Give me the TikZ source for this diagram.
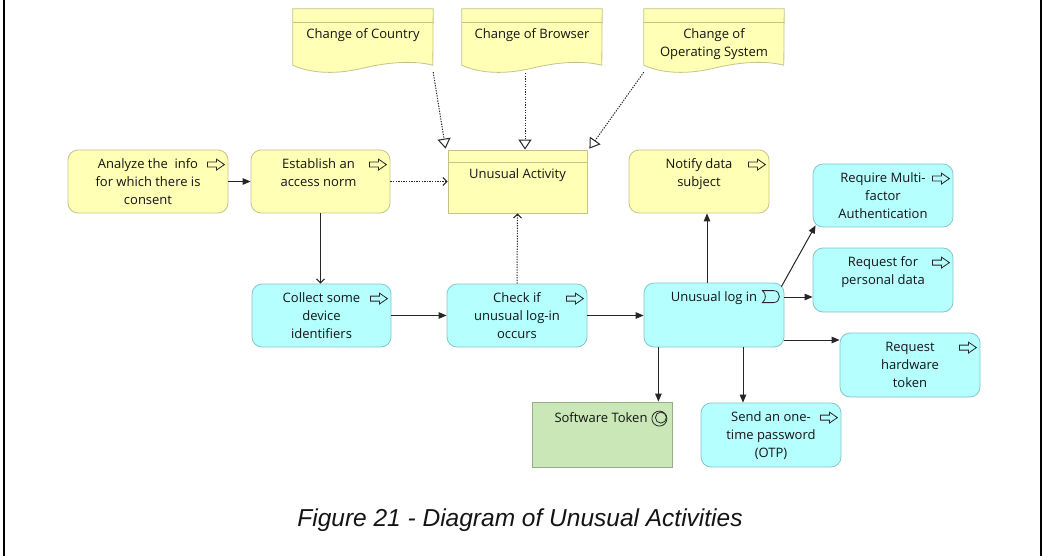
\documentclass[tikz,border=0pt]{standalone}
\usepackage{fontspec}
\setmainfont{Open Sans}
\newfontfamily\capfont{Liberation Sans}
\usetikzlibrary{arrows.meta,calc}

\definecolor{bizfill}{HTML}{FFFFB5}
\definecolor{bizline}{HTML}{C4C48A}
\definecolor{appfill}{HTML}{B5FFFF}
\definecolor{appline}{HTML}{86C6C6}
\definecolor{techfill}{HTML}{C9E7B7}
\definecolor{techline}{HTML}{98AE88}
\definecolor{txt}{HTML}{141414}

\tikzset{
  box/.style={minimum width=140pt, minimum height=63pt, inner sep=0pt, line width=0.8pt, draw},
  proc/.style={box, rounded corners=10pt},
  biz/.style={fill=bizfill, draw=bizline},
  app/.style={fill=appfill, draw=appline},
  tech/.style={fill=techfill, draw=techline},
  docbox/.style={minimum width=140pt, minimum height=64pt, inner sep=0pt, draw=none},
  docline/.style={fill=bizfill, draw=bizline, line width=0.8pt},
  lbl/.style={anchor=north, align=center, inner sep=0pt, text=txt,
    font=\fontsize{13}{18}\selectfont},
  icon/.style={draw=black!85, line width=0.8pt},
  conn/.style={line width=1pt, draw=black!85},
  trig/.style={conn, -{Triangle[length=8pt,width=6.5pt]}},
  serv/.style={conn, -{Straight Barb[length=4pt,width=8pt]}},
  acc/.style={conn, dash pattern=on 1.3pt off 1.3pt, -{Straight Barb[length=4pt,width=8pt]}},
  real/.style={conn, dash pattern=on 1.3pt off 1.3pt,
    -{Triangle[open,length=10pt,width=13pt,fill=white]}},
}

% outline arrow marking a process
\newcommand\procmark[1]{%
  \draw[icon] ($(#1.north east)+(-21,12.5)$) -- ++(9,0) -- ++(0,-3) -- ++(8,5.5)
    -- ++(-8,5.5) -- ++(0,-3) -- ++(-9,0) -- cycle;}

% representation shape with a wavy lower edge
\newcommand\docshape[1]{%
  \filldraw[docline] (#1.north west) -- (#1.north east) -- ($(#1.south west)+(140,-8)$)
    .. controls ($(#1.south west)+(120,-13)$) and ($(#1.south west)+(95,-11)$) .. ($(#1.south west)+(70,-5)$)
    .. controls ($(#1.south west)+(45,1)$) and ($(#1.south west)+(20,1)$) .. ($(#1.south west)+(0,-8)$)
    -- cycle;
  \draw[draw=bizline, line width=0.8pt] ($(#1.north west)+(0,14)$) -- ($(#1.north east)+(0,14)$);}

\begin{document}
\begin{tikzpicture}[x=1pt, y=-1pt]
\useasboundingbox (0,0) rectangle (1044,556);

% page side rules
\draw[line width=2pt] (4,0) -- (4,556);
\draw[line width=2pt] (1041,0) -- (1041,556);

% representations
\node[docbox] (cty) at (363,41) {};
\node[docbox] (brw) at (532,41) {};
\node[docbox] (os)  at (714,41) {};
\docshape{cty}\docshape{brw}\docshape{os}
\node[lbl, yshift=-19.5pt] (cty-t) at (cty.north) {Change of Country};
\node[lbl, yshift=-19.5pt] (brw-t) at (brw.north) {Change of Browser};
\node[lbl, yshift=-19.5pt] (os-t)  at (os.north)  {Change of\\Operating System};

% business object
\node[box, biz, minimum width=139pt] (ua) at (517.5,181.5) {};
\draw[draw=bizline, line width=0.8pt] ($(ua.north west)+(0,13)$) -- ($(ua.north east)+(0,13)$);
\node[lbl, yshift=-19pt] (ua-t) at (ua.north) {Unusual Activity};

% business processes
\node[proc, biz, minimum width=160pt] (an) at (148,181.5) {};
\node[proc, biz, minimum width=139pt] (est) at (320.5,181.5) {};
\node[proc, biz] (nds) at (699,181.5) {};
\node[lbl, yshift=-9pt] (an-t) at (an.north) {Analyze the\ \ info\\for which there is\\consent};
\node[lbl, yshift=-9pt, xshift=-2pt] (est-t) at (est.north) {Establish an\\access norm};
\node[lbl, yshift=-9pt] (nds-t) at (nds.north) {Notify data\\subject};

% application processes
\node[proc, app, minimum width=139pt] (col) at (321.5,315.5) {};
\node[proc, app] (chk) at (517,315.5) {};
\node[proc, app, minimum height=64pt] (uli) at (714,315) {};
\node[proc, app] (mfa) at (883,195.5) {};
\node[proc, app, minimum height=64pt] (rpd) at (883,280) {};
\node[proc, app, minimum height=64pt] (hw) at (910,365) {};
\node[proc, app, minimum height=64pt] (otp) at (771,435) {};
\node[lbl, yshift=-9pt] (col-t) at (col.north) {Collect some\\device\\identifiers};
\node[lbl, yshift=-9pt] (chk-t) at (chk.north) {Check if\\unusual log-in\\occurs};
\node[lbl, yshift=-9pt] (uli-t) at (uli.north) {Unusual log in};
\node[lbl, yshift=-9pt] (mfa-t) at (mfa.north) {Require Multi-\\factor\\Authentication};
\node[lbl, yshift=-9pt] (rpd-t) at (rpd.north) {Request for\\personal data};
\node[lbl, yshift=-9pt] (hw-t)  at (hw.north)  {Request\\hardware\\token};
\node[lbl, yshift=-9pt] (otp-t) at (otp.north) {Send an one-\\time password\\(OTP)};

% technology element
\node[box, tech, minimum height=65pt] (st) at (602,434.5) {};
\node[lbl, yshift=-10.5pt, xshift=-1pt] (st-t) at (st.north) {Software Token};

% process marks
\foreach \n in {an,est,nds,col,chk,mfa,rpd,hw,otp} {\procmark{\n}}

% event mark
\draw[icon] ($(uli.north east)+(-22,8)$) -- ($(uli.north east)+(-11,8)$)
  .. controls ($(uli.north east)+(-3,8)$) and ($(uli.north east)+(-3,20)$) .. ($(uli.north east)+(-11,20)$)
  -- ($(uli.north east)+(-22,20)$)
  .. controls ($(uli.north east)+(-18,17)$) and ($(uli.north east)+(-18,11)$) .. cycle;

% service mark
\draw[icon] ($(st.north east)+(-13,17)$) circle[radius=7.5pt];
\draw[icon] ($(st.north east)+(-11.5,16)$) circle[radius=5.5pt];

% connectors
\draw[trig] (an.east) -- (est.west);
\draw[acc] (est.east) -- (ua.west);
\draw[serv] (est.south) -- (est.south |- col.north);
\draw[trig] (col.east) -- (chk.west);
\draw[acc] (chk.north) -- (ua.south);
\draw[trig] (chk.east) -- (chk.east -| uli.west);
\draw[trig] ([xshift=-7pt]uli.north) -- ([xshift=-7pt]uli.north |- nds.south);
\draw[trig] ([shift={(-3,4)}]uli.north east) -- ([shift={(3,-2)}]mfa.south west);
\draw[trig] ([yshift=18pt]uli.east) -- ([yshift=18pt]uli.east -| rpd.west);
\draw[trig] ([yshift=-25pt]uli.east) -- ([yshift=-25pt]uli.east -| hw.west);
\draw[trig] ([xshift=-14pt]st.north east |- uli.south) -- ([xshift=-14pt]st.north east);
\draw[trig] ([xshift=-28pt]otp.north |- uli.south) -- ([xshift=-28pt]otp.north);

\draw[real] ($(cty.south east)+(0,-1)$) -- ([shift={(-2,-1)}]ua.north west);
\draw[real] ([xshift=-7pt]brw.south) -- ([xshift=-7pt]brw.south |- ua.north);
\draw[real] ($(os.south west)+(0,-1)$) -- ([shift={(2,-1)}]ua.north east);

% caption
\node[text=txt, font=\capfont\itshape\fontsize{24.5}{28}\selectfont] (cap) at (520,520) {Figure 21 - Diagram of Unusual Activities};
\end{tikzpicture}
\end{document}
